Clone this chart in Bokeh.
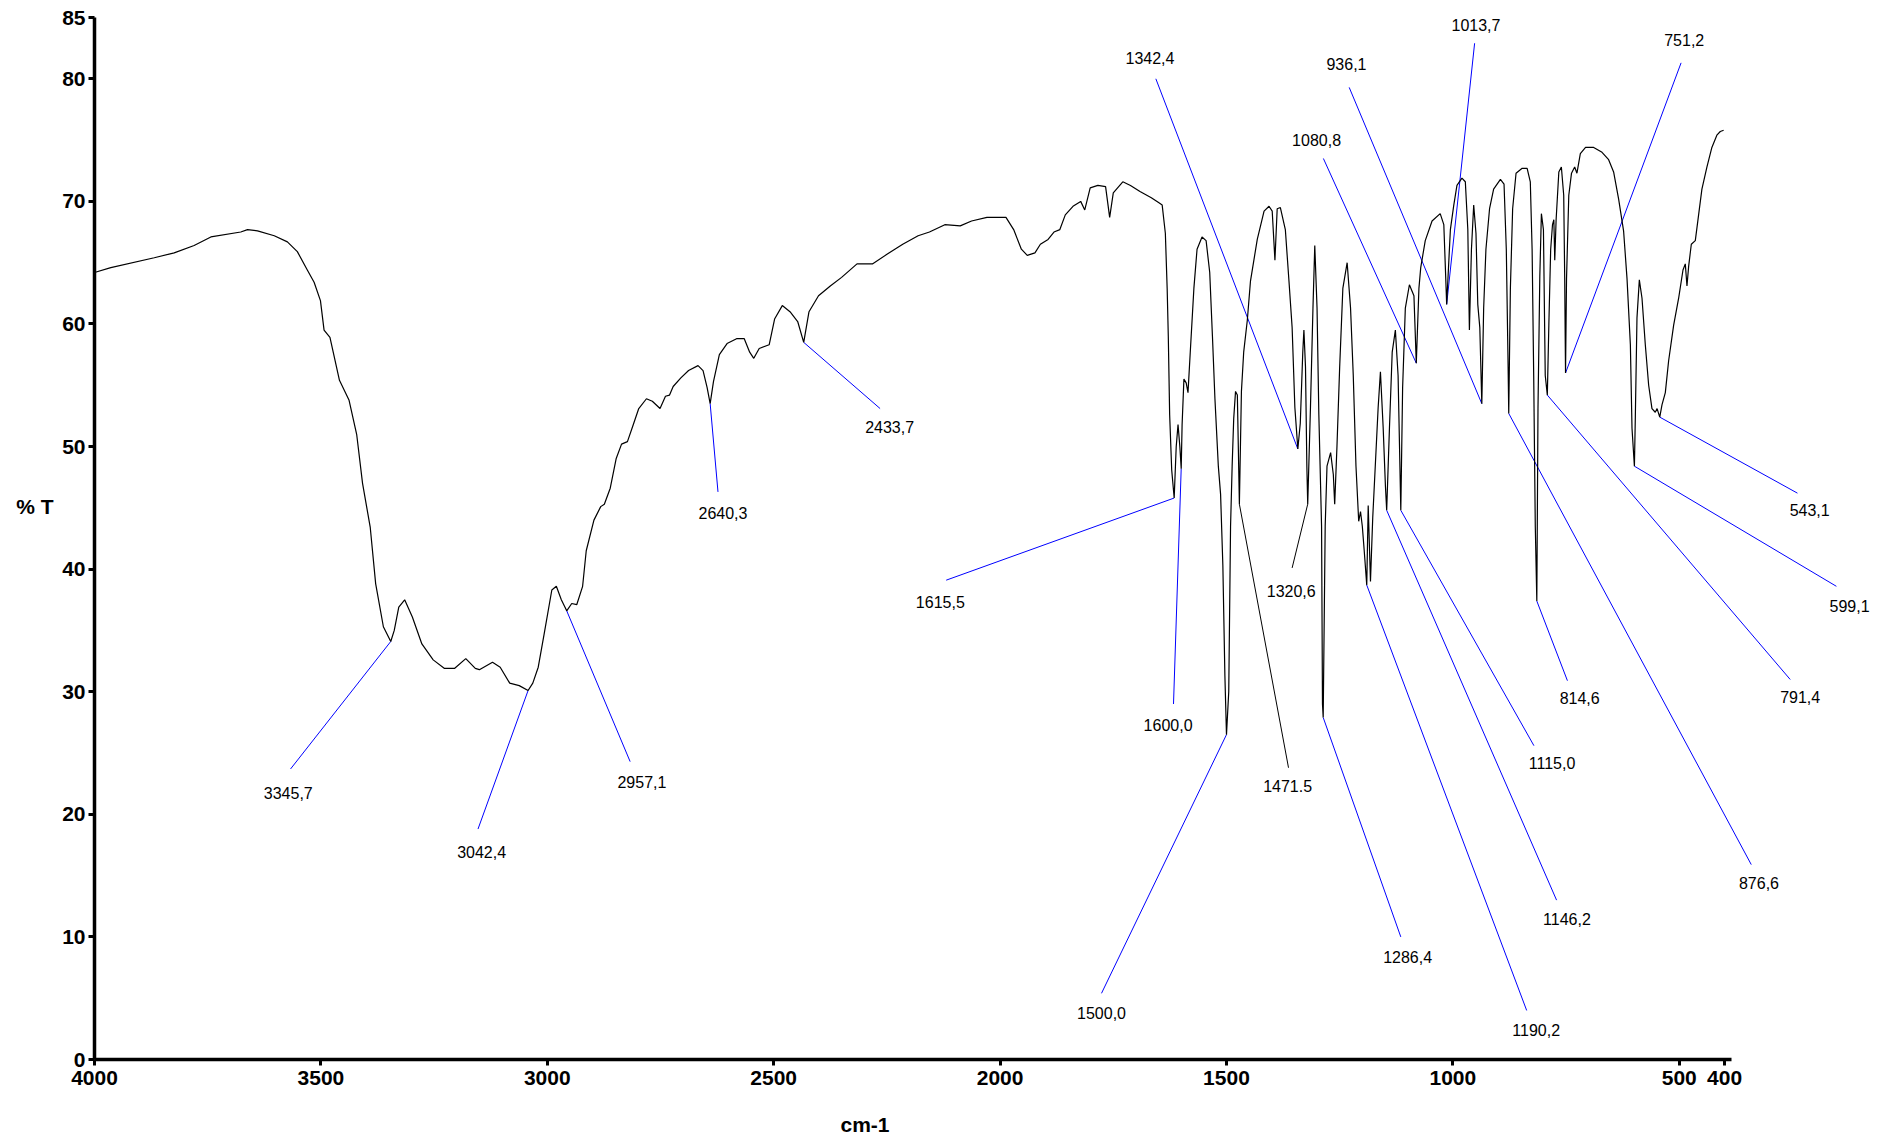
from bokeh.plotting import figure
from bokeh.models import Range1d, ColumnDataSource, LabelSet, FixedTicker, LinearAxis, Title
from bokeh.core.properties import value
from bokeh.embed import file_html
from bokeh.resources import INLINE

# ---------------- data ----------------
wavenumber = [
    4000, 3964, 3868, 3824, 3780, 3743, 3677, 3662, 3640, 3603, 3574, 3552, 3530, 3515, 3501,
    3493, 3480, 3459, 3438, 3421, 3408, 3391, 3379, 3362, 3345.7, 3338, 3328, 3315, 3298, 3277,
    3252, 3227, 3205, 3180, 3159, 3150, 3121, 3104, 3083, 3062, 3042.4, 3032, 3020, 3007, 2990,
    2980, 2969, 2957.1, 2946, 2935, 2922, 2914, 2897, 2882,
    2874, 2861, 2848, 2836, 2823, 2810, 2798, 2781, 2768, 2751, 2739, 2730, 2722, 2705, 2688,
    2667, 2656, 2647, 2640.3, 2633, 2620, 2603, 2582, 2565, 2553, 2544, 2532, 2510, 2498, 2481,
    2464, 2447, 2433.7, 2422, 2401, 2375, 2350, 2316, 2282, 2249, 2215, 2181, 2156, 2122, 2088,
    2063, 2029, 1987, 1970, 1953, 1940, 1923, 1911, 1894, 1881, 1868, 1856, 1839, 1822, 1813,
    1801, 1784, 1767, 1758, 1750, 1729, 1712, 1691, 1666, 1650,
    1642, 1635, 1631, 1628.5, 1625.5, 1621, 1615.5, 1611, 1607, 1603, 1600, 1598, 1594, 1589,
    1585, 1580, 1572, 1565, 1554, 1545, 1537, 1531, 1525.5, 1518, 1513, 1508, 1503.5, 1500,
    1495, 1491, 1487.5, 1484, 1480, 1476, 1471.5, 1467, 1462, 1454, 1447, 1432, 1417, 1406,
    1399, 1393, 1388, 1381,
    1370, 1362, 1355, 1349, 1342.4, 1337, 1331.5, 1329, 1325.5, 1322.5, 1320.6, 1314.5, 1309,
    1305, 1300, 1296, 1290, 1288, 1286.4, 1282, 1278, 1270, 1264, 1261, 1256, 1250, 1243,
    1233.5, 1226, 1220, 1214, 1208, 1204, 1200, 1196, 1190.2, 1187, 1182, 1177, 1171, 1165,
    1160, 1154, 1149, 1146.2, 1140, 1134, 1127, 1121, 1115, 1111, 1105, 1096, 1086, 1080.8,
    1075, 1071,
    1061, 1046, 1028, 1020, 1016.5, 1013.7, 1005.5, 998, 991, 980, 972.5, 967, 963.5, 959, 954,
    949, 945, 940.5, 936.1, 932, 927, 919, 910, 895, 887, 882, 878, 876.6, 873, 868, 860.5, 847,
    836, 829, 825, 821.5, 818, 814.6, 812, 808, 804.5, 800, 796, 791.4, 788, 784, 780, 777, 775,
    772, 766, 760.4, 755.2, 753, 752, 751.2, 749, 744, 738, 731, 726, 718.5, 707, 689, 670.6,
    656, 645, 634, 623, 615.4, 608, 604.4, 599.1, 597, 593.4, 588.2, 582.3, 575, 567.6, 560.3,
    553, 549, 543.1, 538.2, 530.8, 523.5, 512.4, 501.4, 491.8, 486.7, 483, 479.3, 473.4, 464.6,
    457.3, 450, 439, 428, 417, 409.4, 402,
]
transmittance = [
    64.2, 64.6, 65.4, 65.8, 66.4, 67.1, 67.5, 67.7, 67.6, 67.2, 66.7, 65.9, 64.4, 63.4, 61.9,
    59.5, 58.9, 55.4, 53.8, 51.0, 47.0, 43.4, 38.8, 35.3, 34.1, 35.0, 36.9, 37.5, 36.1, 33.9,
    32.6, 31.9, 31.9, 32.7, 31.9, 31.8, 32.4, 32.0, 30.7, 30.5, 30.1, 30.7, 32.0, 34.7, 38.3,
    38.6, 37.5, 36.6, 37.2, 37.1, 38.6, 41.5, 44.0, 45.1,
    45.3, 46.6, 49.0, 50.2, 50.4, 51.8, 53.1, 53.9, 53.7, 53.1, 54.1, 54.2, 54.9, 55.6, 56.2,
    56.6, 56.2, 54.8, 53.5, 55.3, 57.5, 58.4, 58.8, 58.8, 57.7, 57.2, 58.0, 58.3, 60.4, 61.5,
    61.0, 60.2, 58.5, 61.0, 62.3, 63.1, 63.8, 64.9, 64.9, 65.7, 66.5, 67.2, 67.5, 68.1, 68.0,
    68.4, 68.7, 68.7, 67.7, 66.1, 65.6, 65.8, 66.5, 66.9, 67.5, 67.7, 68.9, 69.6, 70.0, 69.3,
    71.1, 71.3, 71.2, 68.7, 70.7, 71.6, 71.3, 70.8, 70.3, 69.9,
    69.7, 67.4, 62.9, 59.0, 52.6, 48.1, 45.8, 50.0, 51.8, 50.0, 48.2, 51.8, 55.5, 55.2,
    54.4, 57.7, 62.9, 66.1, 67.1, 66.8, 64.2, 59.0, 53.9, 48.4, 46.1, 40.3, 31.3, 26.5,
    30.0, 43.5, 48.4, 52.3, 54.5, 54.2, 45.3, 54.5, 57.7, 60.3, 63.5, 66.9, 69.2, 69.6,
    69.2, 65.2, 69.4, 69.5,
    67.7, 63.5, 59.7, 53.2, 49.8, 51.9, 57.7, 59.5, 56.5, 48.4, 45.3, 53.2, 61.3,
    66.4, 61.3, 52.6, 43.5, 29.0, 27.9, 43.5, 48.4, 49.5, 47.7, 45.3, 50.0, 56.5, 62.9,
    65.0, 61.3, 55.8, 48.4, 43.9, 44.7, 43.5, 41.6, 38.7, 45.2, 39.0, 44.2, 48.7, 53.2,
    56.1, 51.6, 46.8, 44.8, 51.6, 57.7, 59.5, 55.8, 44.8, 54.8, 61.3, 63.2, 62.3, 56.8,
    62.9, 64.6,
    66.8, 68.4, 69.0, 68.1, 64.5, 61.6, 67.7, 69.7, 71.3, 71.9, 71.6, 67.7, 59.5, 66.1, 69.7,
    67.4, 61.6, 59.7, 53.5, 61.3, 66.1, 69.4, 71.0, 71.8, 71.4, 66.1, 56.5, 52.7, 62.9, 69.4, 72.3, 72.7,
    72.7, 71.6, 66.1, 55.8, 43.5, 37.4, 53.2, 63.9, 69.0, 67.7, 55.8, 54.2, 60.0, 66.1, 68.1, 68.5, 65.2,
    68.5, 72.4, 72.8, 70.5, 63.7, 59.2, 56.0, 63.7, 70.5, 72.3, 72.8, 72.3, 73.9, 74.4, 74.4, 74.0,
    73.4, 72.4, 70.2, 67.6, 63.7, 58.3, 51.5, 48.4, 52.5, 60.5, 63.6, 62.1, 58.3, 55.0, 53.1,
    52.8, 53.1, 52.4, 53.4, 54.4, 57.0, 59.9, 62.1, 64.4, 64.9, 63.1, 64.7, 66.5, 66.8,
    68.9, 71.0, 72.8, 74.4, 75.4, 75.7, 75.8,
]

# peak annotations (blue leader lines)
peak_wn = [3345.7, 3042.4, 2957.1, 2640.3, 2433.7, 1615.5, 1600.0, 1500.0, 1342.4, 1286.4,
           1190.2, 1146.2, 1115.0, 1080.8, 936.1, 1013.7, 751.2, 814.6, 876.6, 791.4, 599.1, 543.1]
peak_t = [34.1, 30.1, 36.6, 53.5, 58.5, 45.8, 48.2, 26.5, 49.8, 27.9,
          38.7, 44.8, 44.8, 56.8, 53.5, 61.6, 56.0, 37.4, 52.7, 54.2, 48.4, 52.4]
lead_wn = [3567, 3153, 2817, 2623, 2265, 2119, 1617, 1776, 1656, 1115,
           837, 771, 821, 1286, 1229, 952, 496, 747, 341, 255, 153, 239]
lead_t = [23.7, 18.8, 24.3, 46.3, 53.1, 39.1, 29.0, 5.4, 80.0, 10.0,
          4.0, 13.0, 25.6, 73.5, 79.3, 82.9, 81.3, 30.9, 15.9, 31.0, 38.6, 46.2]

# peak annotations (black leader lines)
peak_wn_k = [1471.5, 1320.6]
peak_t_k = [45.3, 45.3]
lead_wn_k = [1363, 1355]
lead_t_k = [23.8, 40.1]

label_text = ["3345,7", "3042,4", "2957,1", "2640,3", "2433,7", "1615,5", "1600,0", "1500,0",
              "1471.5", "1342,4", "1320,6", "1286,4", "1190,2", "1146,2", "1115,0", "1080,8",
              "936,1", "1013,7", "751,2", "814,6", "876,6", "791,4", "599,1", "543,1"]
label_wn = [3572, 3145, 2791, 2612, 2244, 2132, 1629, 1776,
            1365, 1669, 1357, 1100, 816, 748, 781, 1301,
            1235, 949, 489, 720, 324, 233, 124, 212]
label_t = [21.7, 16.9, 22.6, 44.6, 51.6, 37.3, 27.3, 3.8,
           22.3, 81.7, 38.2, 8.4, 2.4, 11.5, 24.2, 75.0,
           81.2, 84.4, 83.2, 29.5, 14.4, 29.6, 37.0, 44.8]

x_ticks = [4000, 3500, 3000, 2500, 2000, 1500, 1000, 500, 400]
y_ticks = [0, 10, 20, 30, 40, 50, 60, 70, 80, 85]
x_title = "cm-1"
y_title = "% T"

# ---------------- figure ----------------
p = figure(width=1890, height=1138,
           x_range=Range1d(4000, 60), y_range=Range1d(0, 85),
           output_backend="svg", toolbar_location=None,
           min_border_left=94, min_border_right=12, min_border_top=17, min_border_bottom=79)
p.grid.visible = False
p.outline_line_color = None
p.background_fill_color = "white"
p.border_fill_color = "white"

p.xaxis.bounds = (385, 4000)
p.xaxis.ticker = FixedTicker(ticks=x_ticks)
p.yaxis.ticker = FixedTicker(ticks=y_ticks)
for ax in (p.xaxis, p.yaxis):
    ax.axis_line_width = 3.5
    ax.axis_line_color = "black"
    ax.major_tick_line_width = 3
    ax.major_tick_line_color = "black"
    ax.major_tick_out = 6
    ax.major_tick_in = 0
    ax.minor_tick_line_color = None
    ax.major_label_text_font = "Liberation Sans"
    ax.major_label_text_font_style = "bold"
    ax.major_label_text_font_size = "21px"
    ax.major_label_text_color = "black"
p.xaxis.major_label_standoff = 5
p.yaxis.major_label_standoff = 3

# x title: a left-aligned Title below the axis, offset to where the reference has it
p.add_layout(Title(text="\n" + x_title, align="left", offset=746, standoff=0,
                   text_font="Liberation Sans", text_font_style="bold",
                   text_font_size="21px", text_line_height=1.0,
                   text_color="black"), "below")

# y title: horizontal label of an empty left axis (extra blank lines lift it up)
yt = LinearAxis(ticker=FixedTicker(ticks=[]), axis_line_color=None,
                major_tick_line_color=None, minor_tick_line_color=None,
                major_label_text_font_size="0px",
                axis_label=y_title + "\n\n", axis_label_standoff=6,
                axis_label_text_font="Liberation Sans",
                axis_label_text_font_style="bold",
                axis_label_text_font_size="21px",
                axis_label_text_line_height=1.4,
                axis_label_text_color="black")
if "axis_label_orientation" in yt.properties():
    yt.axis_label_orientation = "horizontal"
p.add_layout(yt, "left")

# leader lines
p.segment(x0=peak_wn, y0=peak_t, x1=lead_wn, y1=lead_t, line_color="#0000ff", line_width=1)
p.segment(x0=peak_wn_k, y0=peak_t_k, x1=lead_wn_k, y1=lead_t_k, line_color="black", line_width=1)

# spectrum
p.line(wavenumber, transmittance, line_color="black", line_width=1.2)

# peak labels
src = ColumnDataSource(dict(x=label_wn, y=label_t, text=label_text))
p.add_layout(LabelSet(x="x", y="y", text="text", source=src,
                      text_align="center", text_baseline="middle",
                      text_font=value("Liberation Sans"), text_font_size="16px",
                      text_color="black"))

open("out.html", "w").write(file_html(p, INLINE))
